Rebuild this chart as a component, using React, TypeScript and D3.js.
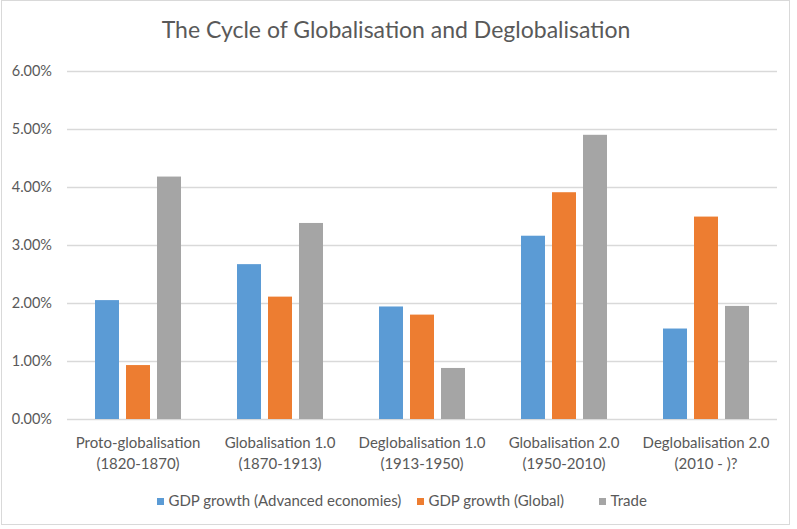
import React from "react";
import * as d3 from "d3";

const categories: [string, string][] = [
  ["Proto-globalisation", "(1820-1870)"],
  ["Globalisation 1.0", "(1870-1913)"],
  ["Deglobalisation 1.0", "(1913-1950)"],
  ["Globalisation 2.0", "(1950-2010)"],
  ["Deglobalisation 2.0", "(2010 - )?"],
];
const seriesNames = ["GDP growth (Advanced economies)", "GDP growth (Global)", "Trade"];
const gdpAdvanced = [0.0205, 0.0267, 0.0194, 0.0316, 0.0156];
const gdpGlobal = [0.0093, 0.0211, 0.018, 0.0391, 0.0349];
const trade = [0.0418, 0.0338, 0.0088, 0.049, 0.0195];
const yTicks = [0, 0.01, 0.02, 0.03, 0.04, 0.05, 0.06];
const title = "The Cycle of Globalisation and Deglobalisation";

const colors = ["#5B9BD5", "#ED7D31", "#A5A5A5"];
const W = 797;
const H = 529;
const FONT = "Lato, 'Open Sans', sans-serif";
const TEXT = "#595959";

export default function App() {
  const series = [gdpAdvanced, gdpGlobal, trade];
  const x0 = d3
    .scaleBand<number>()
    .domain(categories.map((_, i) => i))
    .range([67, 777])
    .paddingInner(0)
    .paddingOuter(0);
  const bw = x0.bandwidth();
  const x1 = d3
    .scaleBand<number>()
    .domain([0, 1, 2])
    .range([28, bw - 28])
    .paddingInner(0.226)
    .paddingOuter(0);
  const y = d3.scaleLinear().domain([0, 0.06]).range([419, 71]);
  const fmt = d3.format(".2%");

  const legendItems = [
    { x: 157, label: seriesNames[0] },
    { x: 417, label: seriesNames[1] },
    { x: 599, label: seriesNames[2] },
  ];

  return (
    <svg
      width={W}
      height={H}
      style={{ position: "absolute", left: 0, top: 0, background: "#fff" }}
      fontFamily={FONT}
    >
      <rect x={0} y={0} width={W} height={H} fill="#fff" />
      <rect x={1.5} y={0.5} width={788} height={524} fill="none" stroke="#D9D9D9" />
      <text x={396} y={38} textAnchor="middle" fontSize={23} fill={TEXT}>
        {title}
      </text>
      {yTicks.map((t) => (
        <g key={t}>
          <line x1={67} x2={777} y1={Math.round(y(t)) + 0.5} y2={Math.round(y(t)) + 0.5} stroke="#D9D9D9" strokeWidth={1.3} />
          <text x={52} y={y(t) + 5} textAnchor="end" fontSize={14.5} fill={TEXT}>
            {fmt(t)}
          </text>
        </g>
      ))}
      {categories.map((c, i) => (
        <g key={i}>
          {series.map((s, j) => (
            <rect
              key={j}
              x={(x0(i) as number) + (x1(j) as number)}
              y={y(s[i])}
              width={x1.bandwidth()}
              height={y(0) - y(s[i])}
              fill={colors[j]}
            />
          ))}
          <text x={(x0(i) as number) + bw / 2} y={448} textAnchor="middle" fontSize={15} fill={TEXT}>
            {c[0]}
          </text>
          <text x={(x0(i) as number) + bw / 2} y={469} textAnchor="middle" fontSize={15} fill={TEXT}>
            {c[1]}
          </text>
        </g>
      ))}
      {legendItems.map((l, j) => (
        <g key={j}>
          <rect x={l.x} y={498} width={7} height={7} fill={colors[j]} />
          <text x={l.x + 11.5} y={506} fontSize={15} fill={TEXT}>
            {l.label}
          </text>
        </g>
      ))}
    </svg>
  );
}
